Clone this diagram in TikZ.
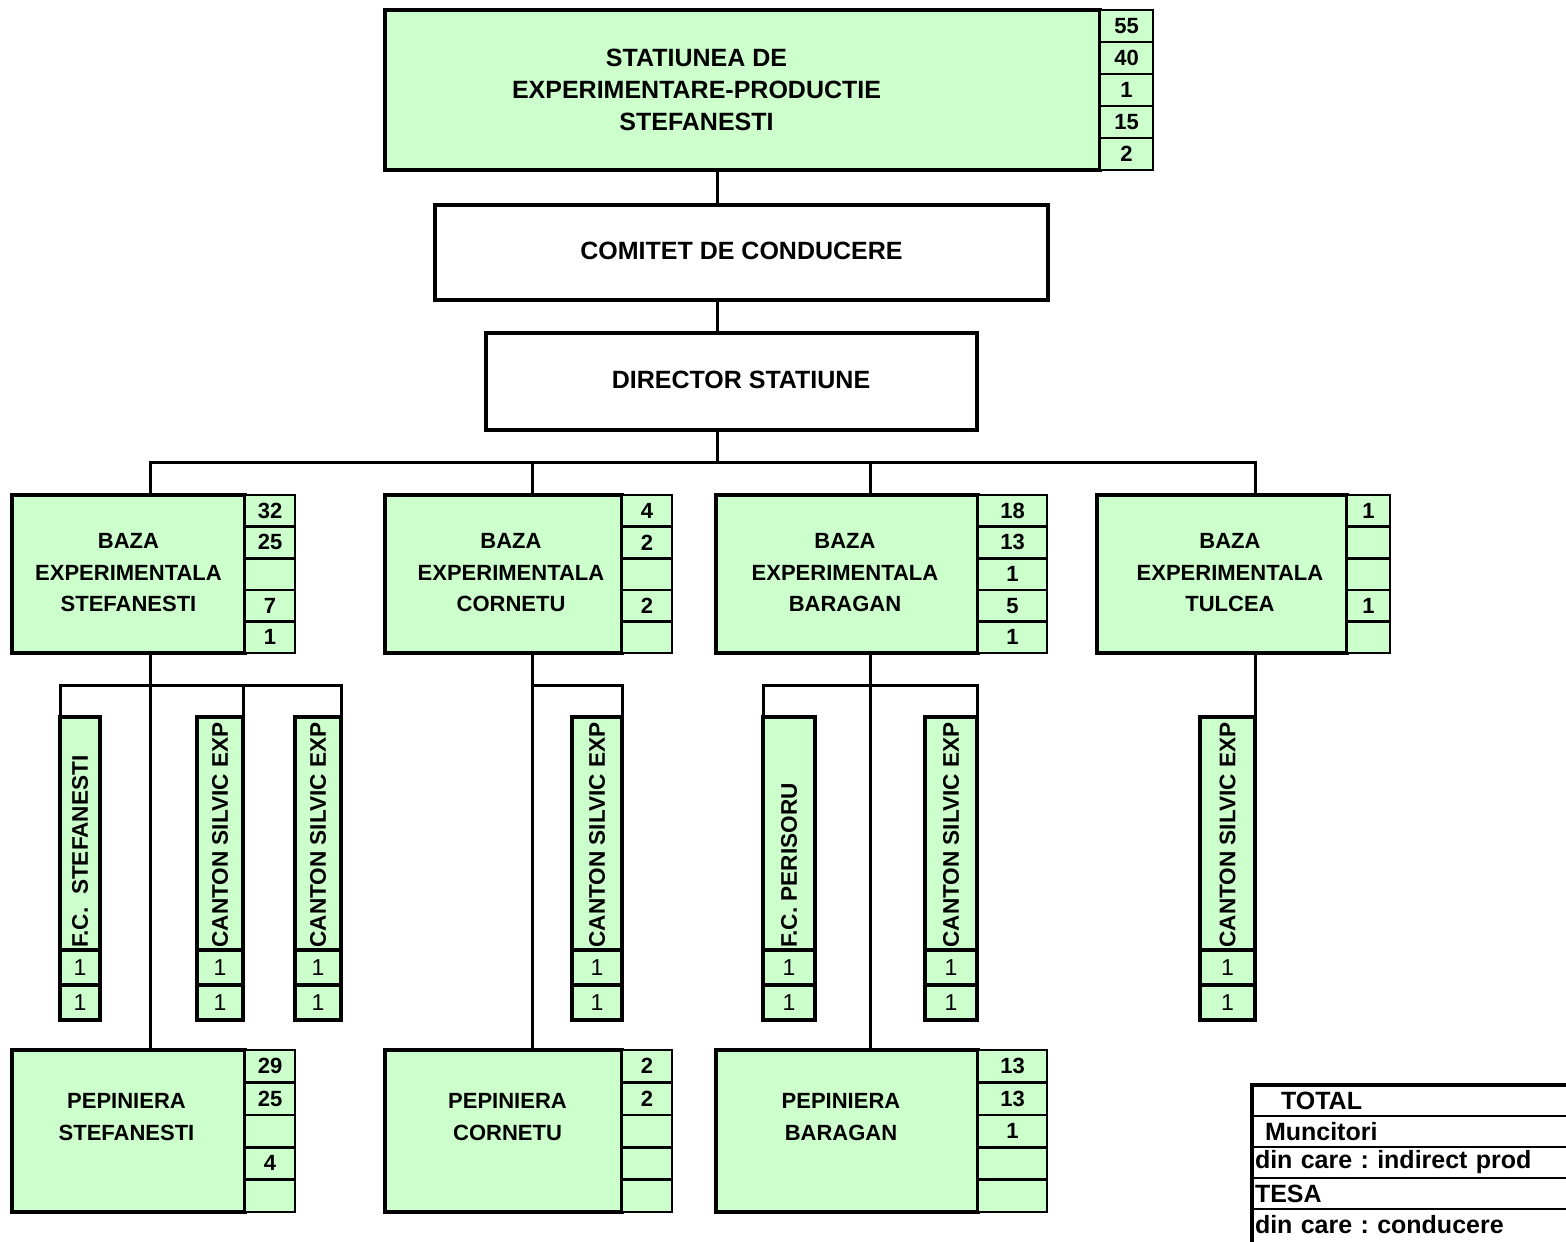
\documentclass[tikz,border=0pt]{standalone}
\usepackage{fontspec}
\setmainfont{Liberation Sans}
\usetikzlibrary{positioning}
\definecolor{paleGreen}{RGB}{204,255,204}
\frenchspacing

\begin{document}
\begin{tikzpicture}[
    x=0.5pt, y=-0.5pt,
    mainbox/.style={draw=black, line width=2pt, fill=paleGreen, inner sep=0pt, outer sep=0pt},
    whitebox/.style={draw=black, line width=2pt, fill=white, inner sep=0pt, outer sep=0pt},
    bigtext/.style={align=center, font=\bfseries\fontsize{12.5}{16}\selectfont},
    bazatext/.style={align=center, font=\bfseries\fontsize{11}{15.75}\selectfont},
    numcell/.style={draw=black, line width=1.3pt, fill=paleGreen, inner sep=0pt, outer sep=0pt, font=\bfseries\fontsize{11}{13}\selectfont},
    topnum/.style={numcell, minimum width=26.5pt, minimum height=16pt},
    bazanum/.style={numcell, minimum height=15.8pt},
    pepnum/.style={numcell, minimum height=16.2pt},
    vbox/.style={mainbox, minimum height=116.5pt, anchor=north west},
    vcell/.style={draw=black, line width=2pt, fill=paleGreen, inner sep=0pt, outer sep=0pt, minimum height=17.5pt, font=\fontsize{11.5}{13}\selectfont},
    vtext/.style={rotate=90, anchor=west, inner sep=0pt, font=\bfseries\fontsize{11.3}{13}\selectfont},
    legrow/.style={draw=black, line width=1.3pt, inner xsep=1.5pt, inner ysep=0pt, outer sep=0pt, minimum height=15.5pt, text width=171pt, align=left, font=\bfseries\fontsize{12.5}{14}\selectfont},
    link/.style={draw=black, line width=1.5pt},
  ]
  \useasboundingbox (0,0) rectangle (1566,1241);

  % station, committee, director
  \node[mainbox, minimum width=357.5pt, minimum height=80pt, anchor=north west] (statiune) at (385,10) {};
  \node[bigtext] (statiunetext) at ([xshift=-23pt]statiune.center) {STATIUNEA DE\\EXPERIMENTARE-PRODUCTIE\\STEFANESTI};
  \node[topnum, anchor=north west] (statiune1) at (statiune.north east) {55};
  \node[topnum, below=0pt of statiune1] (statiune2) {40};
  \node[topnum, below=0pt of statiune2] (statiune3) {1};
  \node[topnum, below=0pt of statiune3] (statiune4) {15};
  \node[topnum, below=0pt of statiune4] (statiune5) {2};

  \node[whitebox, minimum width=306.5pt, minimum height=47.5pt, anchor=north west] (comitet) at (435,205) {};
  \node[bigtext] (comitettext) at ([yshift=1pt]comitet.center) {COMITET DE CONDUCERE};
  \node[whitebox, minimum width=245.5pt, minimum height=48.5pt, anchor=north west] (director) at (486,333) {};
  \node[bigtext] (directortext) at ([xshift=4.75pt, yshift=1pt]director.center) {DIRECTOR STATIUNE};

  % experimental bases
  \node[mainbox, minimum width=116.5pt, minimum height=79pt, anchor=north west] (bazaS) at (12,495) {};
  \node[bazatext] (bazaStext) at ([yshift=0.5pt]bazaS.center) {BAZA\\EXPERIMENTALA\\STEFANESTI};
  \node[bazanum, minimum width=25pt, anchor=north west] (bazaS1) at (bazaS.north east) {32};
  \node[bazanum, minimum width=25pt, below=0pt of bazaS1] (bazaS2) {25};
  \node[bazanum, minimum width=25pt, below=0pt of bazaS2] (bazaS3) {};
  \node[bazanum, minimum width=25pt, below=0pt of bazaS3] (bazaS4) {7};
  \node[bazanum, minimum width=25pt, below=0pt of bazaS4] (bazaS5) {1};

  \node[mainbox, minimum width=118.5pt, minimum height=79pt, anchor=north west] (bazaC) at (385,495) {};
  \node[bazatext] (bazaCtext) at ([xshift=3.75pt, yshift=0.5pt]bazaC.center) {BAZA\\EXPERIMENTALA\\CORNETU};
  \node[bazanum, minimum width=25pt, anchor=north west] (bazaC1) at (bazaC.north east) {4};
  \node[bazanum, minimum width=25pt, below=0pt of bazaC1] (bazaC2) {2};
  \node[bazanum, minimum width=25pt, below=0pt of bazaC2] (bazaC3) {};
  \node[bazanum, minimum width=25pt, below=0pt of bazaC3] (bazaC4) {2};
  \node[bazanum, minimum width=25pt, below=0pt of bazaC4] (bazaC5) {};

  \node[mainbox, minimum width=131pt, minimum height=79pt, anchor=north west] (bazaB) at (716,495) {};
  \node[bazatext] (bazaBtext) at ([xshift=-1pt, yshift=0.5pt]bazaB.center) {BAZA\\EXPERIMENTALA\\BARAGAN};
  \node[bazanum, minimum width=34.5pt, anchor=north west] (bazaB1) at (bazaB.north east) {18};
  \node[bazanum, minimum width=34.5pt, below=0pt of bazaB1] (bazaB2) {13};
  \node[bazanum, minimum width=34.5pt, below=0pt of bazaB2] (bazaB3) {1};
  \node[bazanum, minimum width=34.5pt, below=0pt of bazaB3] (bazaB4) {5};
  \node[bazanum, minimum width=34.5pt, below=0pt of bazaB4] (bazaB5) {1};

  \node[mainbox, minimum width=125pt, minimum height=79pt, anchor=north west] (bazaT) at (1097,495) {};
  \node[bazatext] (bazaTtext) at ([xshift=4pt, yshift=0.5pt]bazaT.center) {BAZA\\EXPERIMENTALA\\TULCEA};
  \node[bazanum, minimum width=21.5pt, anchor=north west] (bazaT1) at (bazaT.north east) {1};
  \node[bazanum, minimum width=21.5pt, below=0pt of bazaT1] (bazaT2) {};
  \node[bazanum, minimum width=21.5pt, below=0pt of bazaT2] (bazaT3) {};
  \node[bazanum, minimum width=21.5pt, below=0pt of bazaT3] (bazaT4) {1};
  \node[bazanum, minimum width=21.5pt, below=0pt of bazaT4] (bazaT5) {};

  % forest districts and cantons
  \node[vbox, minimum width=20pt] (fcS) at (60,717) {};
  \node[vbox, minimum width=23pt] (cantonS1) at (197,717) {};
  \node[vbox, minimum width=23pt] (cantonS2) at (295,717) {};
  \node[vbox, minimum width=25pt] (cantonC) at (572,717) {};
  \node[vbox, minimum width=26pt] (fcB) at (763,717) {};
  \node[vbox, minimum width=26pt] (cantonB) at (925,717) {};
  \node[vbox, minimum width=27.5pt] (cantonT) at (1200,717) {};

  \node[vtext] at ([yshift=1pt]fcS.south) {F.C.~~STEFANESTI};
  \node[vtext] at ([yshift=1pt]cantonS1.south) {CANTON SILVIC EXP};
  \node[vtext] at ([yshift=1pt]cantonS2.south) {CANTON SILVIC EXP};
  \node[vtext] at ([yshift=1pt]cantonC.south) {CANTON SILVIC EXP};
  \node[vtext] at ([yshift=1pt]fcB.south) {F.C.~PERISORU};
  \node[vtext] at ([yshift=1pt]cantonB.south) {CANTON SILVIC EXP};
  \node[vtext] at ([yshift=1pt]cantonT.south) {CANTON SILVIC EXP};

  \node[vcell, minimum width=20pt, below=0pt of fcS] (fcS1) {1};
  \node[vcell, minimum width=20pt, below=0pt of fcS1] (fcS2) {1};
  \node[vcell, minimum width=23pt, below=0pt of cantonS1] (cantonS11) {1};
  \node[vcell, minimum width=23pt, below=0pt of cantonS11] (cantonS12) {1};
  \node[vcell, minimum width=23pt, below=0pt of cantonS2] (cantonS21) {1};
  \node[vcell, minimum width=23pt, below=0pt of cantonS21] (cantonS22) {1};
  \node[vcell, minimum width=25pt, below=0pt of cantonC] (cantonC1) {1};
  \node[vcell, minimum width=25pt, below=0pt of cantonC1] (cantonC2) {1};
  \node[vcell, minimum width=26pt, below=0pt of fcB] (fcB1) {1};
  \node[vcell, minimum width=26pt, below=0pt of fcB1] (fcB2) {1};
  \node[vcell, minimum width=26pt, below=0pt of cantonB] (cantonB1) {1};
  \node[vcell, minimum width=26pt, below=0pt of cantonB1] (cantonB2) {1};
  \node[vcell, minimum width=27.5pt, below=0pt of cantonT] (cantonT1) {1};
  \node[vcell, minimum width=27.5pt, below=0pt of cantonT1] (cantonT2) {1};

  % nurseries
  \node[mainbox, minimum width=116.5pt, minimum height=81pt, anchor=north west] (pepS) at (12,1050) {};
  \node[bazatext] (pepStext) at ([xshift=-1pt, yshift=7pt]pepS.center) {PEPINIERA\\STEFANESTI};
  \node[pepnum, minimum width=25pt, anchor=north west] (pepS1) at (pepS.north east) {29};
  \node[pepnum, minimum width=25pt, below=0pt of pepS1] (pepS2) {25};
  \node[pepnum, minimum width=25pt, below=0pt of pepS2] (pepS3) {};
  \node[pepnum, minimum width=25pt, below=0pt of pepS3] (pepS4) {4};
  \node[pepnum, minimum width=25pt, below=0pt of pepS4] (pepS5) {};

  \node[mainbox, minimum width=118.5pt, minimum height=81pt, anchor=north west] (pepC) at (385,1050) {};
  \node[bazatext] (pepCtext) at ([xshift=2pt, yshift=7pt]pepC.center) {PEPINIERA\\CORNETU};
  \node[pepnum, minimum width=25pt, anchor=north west] (pepC1) at (pepC.north east) {2};
  \node[pepnum, minimum width=25pt, below=0pt of pepC1] (pepC2) {2};
  \node[pepnum, minimum width=25pt, below=0pt of pepC2] (pepC3) {};
  \node[pepnum, minimum width=25pt, below=0pt of pepC3] (pepC4) {};
  \node[pepnum, minimum width=25pt, below=0pt of pepC4] (pepC5) {};

  \node[mainbox, minimum width=131pt, minimum height=81pt, anchor=north west] (pepB) at (716,1050) {};
  \node[bazatext] (pepBtext) at ([xshift=-3pt, yshift=7pt]pepB.center) {PEPINIERA\\BARAGAN};
  \node[pepnum, minimum width=34.5pt, anchor=north west] (pepB1) at (pepB.north east) {13};
  \node[pepnum, minimum width=34.5pt, below=0pt of pepB1] (pepB2) {13};
  \node[pepnum, minimum width=34.5pt, below=0pt of pepB2] (pepB3) {1};
  \node[pepnum, minimum width=34.5pt, below=0pt of pepB3] (pepB4) {};
  \node[pepnum, minimum width=34.5pt, below=0pt of pepB4] (pepB5) {};

  % legend
  \node[legrow, anchor=north west] (total) at (1252,1085) {\hspace{13pt}TOTAL};
  \node[legrow, below=0pt of total] (muncitori) {\hspace{5pt}Muncitori};
  \node[legrow, below=0pt of muncitori] (indirect) {din care : indirect prod};
  \node[legrow, below=0pt of indirect] (tesa) {TESA};
  \node[legrow, draw=none, below=0pt of tesa] (conducere) {din care : conducere};
  \draw[line width=2pt] (total.north east) -- (total.north west) -- ([yshift=-4pt]conducere.south west);

  % connectors
  \coordinate (spine) at (717,462);
  \coordinate (trunkS) at (150,685);
  \coordinate (trunkC) at (532,685);
  \coordinate (trunkB) at (870,685);
  \coordinate (trunkT) at (1255,685);

  \draw[link] (statiune.south -| spine) -- (comitet.north -| spine);
  \draw[link] (comitet.south -| spine) -- (director.north -| spine);
  \draw[link] (director.south -| spine) -- (spine);
  \draw[link] (bazaS.north -| trunkS) -- (trunkS |- spine) -- (trunkT |- spine) -- (bazaT.north -| trunkT);
  \draw[link] (bazaC.north -| trunkC) -- (trunkC |- spine);
  \draw[link] (bazaB.north -| trunkB) -- (trunkB |- spine);

  \draw[link] (bazaS.south -| trunkS) -- (pepS.north -| trunkS);
  \draw[link] (fcS.north west) -- (fcS.north west |- trunkS) -- (cantonS2.north east |- trunkS) -- (cantonS2.north east);
  \draw[link] (cantonS1.north east) -- (cantonS1.north east |- trunkS);

  \draw[link] (bazaC.south -| trunkC) -- (pepC.north -| trunkC);
  \draw[link] (trunkC) -- (cantonC.north east |- trunkC) -- (cantonC.north east);

  \draw[link] (bazaB.south -| trunkB) -- (pepB.north -| trunkB);
  \draw[link] (fcB.north west) -- (fcB.north west |- trunkB) -- (cantonB.north east |- trunkB) -- (cantonB.north east);

  \draw[link] (bazaT.south -| trunkT) -- (cantonT.north -| trunkT);
\end{tikzpicture}
\end{document}
